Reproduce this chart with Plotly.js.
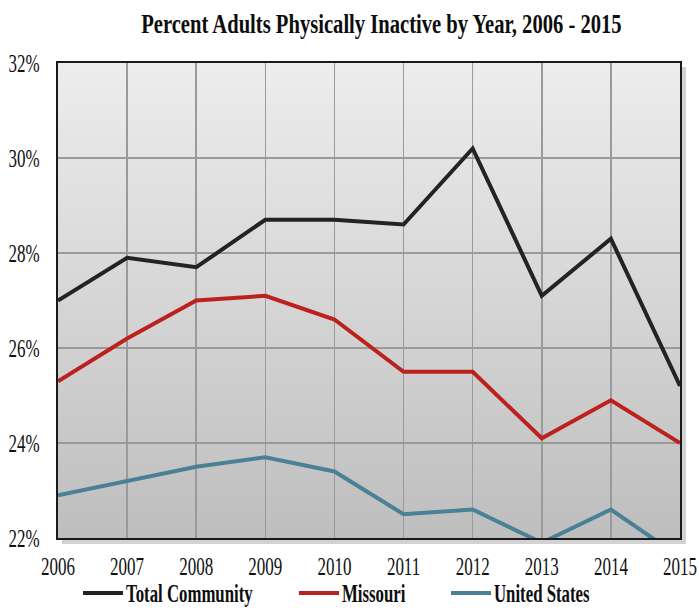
<!DOCTYPE html>
<html>
<head>
<meta charset="utf-8">
<script src="https://cdn.plot.ly/plotly-3.0.1.min.js"></script>
<style>
  html, body { margin: 0; padding: 0; background: #ffffff; }
  #chart { width: 699px; height: 610px; }
</style>
</head>
<body>
<div id="chart"></div>
<script>
// ---- data ----
const years = [2006, 2007, 2008, 2009, 2010, 2011, 2012, 2013, 2014, 2015];
const totalCommunity = [27.0, 27.9, 27.7, 28.7, 28.7, 28.6, 30.2, 27.1, 28.3, 25.2];
const missouri = [25.3, 26.2, 27.0, 27.1, 26.6, 25.5, 25.5, 24.1, 24.9, 24.0];
const unitedStates = [22.9, 23.2, 23.5, 23.7, 23.4, 22.5, 22.6, 21.9, 22.6, 21.6];
const seriesNames = ['Total Community', 'Missouri', 'United States'];
const yTicks = [22, 24, 26, 28, 30, 32];
const chartTitle = 'Percent Adults Physically Inactive by Year, 2006 - 2015';

// ---- styling ----
const FONT = 'Liberation Serif';
const colors = ['#232323', '#bd211e', '#4a8197'];
const legendItemOffsets = [0, 216, 368]; // px from first legend entry

const bgSvg = '<svg xmlns="http://www.w3.org/2000/svg" width="628" height="481" viewBox="0 0 628 481" preserveAspectRatio="none">' +
  '<defs><linearGradient id="g" x1="0" y1="0" x2="0" y2="1">' +
  '<stop offset="0" stop-color="#ededed"/><stop offset="1" stop-color="#bebebe"/></linearGradient></defs>' +
  '<rect x="4" y="4" width="624" height="477" fill="#d2d2d2"/>' +
  '<rect x="0" y="0" width="622" height="475" fill="url(#g)"/></svg>';

const series = [totalCommunity, missouri, unitedStates];
const traces = series.map((vals, i) => ({
  type: 'scatter',
  mode: 'lines',
  x: years,
  y: vals,
  name: seriesNames[i],
  line: { color: colors[i], width: 4 },
  hoverinfo: 'x+y+name'
}));

const layout = {
  width: 699,
  height: 610,
  margin: { l: 58, r: 19, t: 63, b: 72, pad: 0 },
  paper_bgcolor: '#ffffff',
  plot_bgcolor: 'rgba(0,0,0,0)',
  font: { family: FONT, color: '#111111', size: 17 },
  title: {
    text: chartTitle,
    font: { family: FONT, size: 20.6, weight: 'bold', color: '#0d0d0d' },
    x: 0.52, xref: 'paper', xanchor: 'center',
    y: 1 - 24 / 610, yref: 'container', yanchor: 'middle'
  },
  xaxis: {
    range: [years[0], years[years.length - 1]],
    tickvals: years,
    ticktext: years.map(String),
    showgrid: true, gridcolor: '#9a9a9a', gridwidth: 1.5,
    showline: true, linecolor: '#1a1a1a', linewidth: 2, mirror: true,
    zeroline: false, ticks: '',
    ticklabelstandoff: 12,
    tickfont: { family: FONT, size: 17, color: '#111111' },
    fixedrange: true
  },
  yaxis: {
    range: [yTicks[0], yTicks[yTicks.length - 1]],
    tickvals: yTicks,
    ticktext: yTicks.map(v => v + '%'),
    showgrid: true, gridcolor: '#9a9a9a', gridwidth: 1.5,
    showline: true, linecolor: '#1a1a1a', linewidth: 2, mirror: true,
    zeroline: false, ticks: '',
    ticklabelstandoff: 13,
    tickfont: { family: FONT, size: 17, color: '#111111' },
    fixedrange: true
  },
  showlegend: true,
  legend: {
    orientation: 'h',
    xref: 'container', x: 86 / 699, xanchor: 'left',
    yref: 'container', y: 17 / 610, yanchor: 'middle',
    font: { family: FONT, size: 16.8, weight: 'bold', color: '#0d0d0d' },
    bgcolor: 'rgba(0,0,0,0)',
    entrywidth: 150, entrywidthmode: 'pixels',
    itemclick: false, itemdoubleclick: false,
    tracegroupgap: 0
  },
  images: [{
    source: 'data:image/svg+xml;utf8,' + encodeURIComponent(bgSvg),
    xref: 'paper', yref: 'paper',
    x: 0, y: 1, xanchor: 'left', yanchor: 'top',
    sizex: 628 / 622, sizey: 481 / 475,
    sizing: 'stretch', layer: 'below'
  }]
};

function stretchText(nodes, sy) {
  nodes.forEach(t => {
    const b = t.getBBox();
    const cy = b.y + b.height / 2;
    const tr = t.getAttribute('transform') || '';
    t.setAttribute('transform', (tr + ' translate(0,' + cy + ') scale(1,' + sy + ') translate(0,' + (-cy) + ')').trim());
  });
}

Plotly.newPlot('chart', traces, layout, { displayModeBar: false, staticPlot: true }).then(gd => {
  stretchText(gd.querySelectorAll('.xtick text, .ytick text'), 1.53);
  stretchText(gd.querySelectorAll('.legendtext'), 1.45);
  stretchText(gd.querySelectorAll('.gtitle'), 1.35);
  gd.querySelectorAll('.legendlines path').forEach(p => p.setAttribute('d', 'M-3,0h40'));
  gd.querySelectorAll('.legend .scrollbox').forEach(s => s.removeAttribute('clip-path'));
  const items = gd.querySelectorAll('.legend .traces');
  if (items.length) {
    const m0 = /translate\(([-\d.]+),\s*([-\d.]+)\)/.exec(items[0].getAttribute('transform') || '');
    const x0 = m0 ? parseFloat(m0[1]) : 0;
    items.forEach((g, i) => {
      const m = /translate\(([-\d.]+),\s*([-\d.]+)\)/.exec(g.getAttribute('transform') || '');
      const yy = m ? parseFloat(m[2]) : 0;
      g.setAttribute('transform', 'translate(' + (x0 + legendItemOffsets[i]) + ',' + yy + ')');
    });
  }
});
</script>
</body>
</html>
